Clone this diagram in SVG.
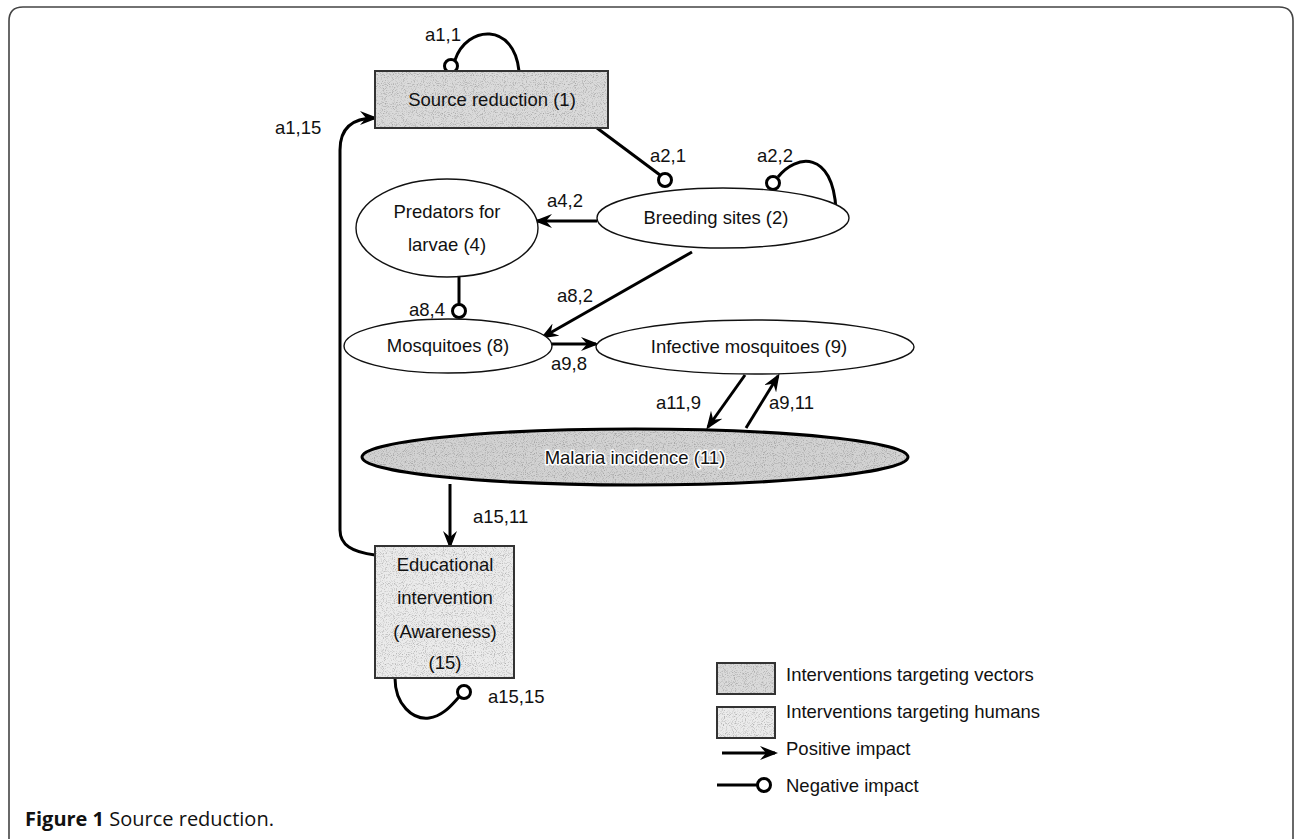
<svg xmlns="http://www.w3.org/2000/svg" width="1295" height="839" viewBox="0 0 1295 839">
  <style>
    text { font-family: "Liberation Sans", Arial, sans-serif; font-size: 18.5px; fill: #111; }
    .lbl { text-anchor: start; }
    .ctr { text-anchor: middle; }
    .node-plain { fill: #fff; stroke: #111; stroke-width: 1.4; }
    .outline { fill: none; stroke: #333; stroke-width: 2; }
    .vec { fill: #dadada; stroke: none; filter: url(#grain); }
    .hum { fill: #ebebeb; stroke: none; filter: url(#grain); }
    .inc { fill: #d2d2d2; stroke: none; filter: url(#grain); }
    .inc-line { fill: none; stroke: #000; stroke-width: 3; }
    .edge { fill: none; stroke: #000; stroke-width: 3; }
    .pos { marker-end: url(#arrow); }
    .neg-end { fill: #fff; stroke: #000; stroke-width: 3; }
    .halo { stroke: #fff; stroke-width: 3; paint-order: stroke; stroke-linejoin: round; }
    .caption { font-family: "Open Sans", "Liberation Sans", sans-serif; font-size: 20px; }
  </style>
  <defs>
    <marker id="arrow" markerUnits="userSpaceOnUse" viewBox="0 0 18 14" refX="15" refY="7" markerWidth="18" markerHeight="14" orient="auto">
      <path d="M0,0 L18,7 L0,14 L6,7 Z" fill="#000"/>
    </marker>
    <!-- light stippled grey print texture -->
    <filter id="grain" x="0" y="0" width="1" height="1" color-interpolation-filters="sRGB">
      <feTurbulence type="fractalNoise" baseFrequency="1.1" numOctaves="1" seed="7" result="noise"/>
      <feColorMatrix in="noise" type="matrix" values="0 0 0 0 0.25  0 0 0 0 0.25  0 0 0 0 0.25  0 0 0 -1.1 0.55" result="dots"/>
      <feComposite in="dots" in2="SourceGraphic" operator="in" result="clipped"/>
      <feMerge><feMergeNode in="SourceGraphic"/><feMergeNode in="clipped"/></feMerge>
    </filter>
  </defs>

  <rect width="1295" height="839" fill="#fff"/>

  <!-- outer frame, open at the bottom -->
  <path d="M9,839 L9,21 Q9,7 23,7 L1279,7 Q1293,7 1293,21 L1293,839" fill="none" stroke="#444" stroke-width="1.6"/>

  <!-- connectors -->
  <g id="connectors">
    <!-- a1,1 self loop -->
    <path class="edge" d="M455,60 C467,25 514,22 519,71"/>
    <circle class="neg-end" cx="451" cy="66" r="6.5"/>
    <!-- a2,1 -->
    <path class="edge" d="M597,128 L660,175"/>
    <circle class="neg-end" cx="665" cy="180" r="6.5"/>
    <!-- a2,2 self loop -->
    <path class="edge" d="M778,177 C796,154 833,150 836,210"/>
    <circle class="neg-end" cx="773" cy="183" r="6.5"/>
    <!-- a4,2 -->
    <path class="edge pos" d="M597,221 L537,221"/>
    <!-- a8,2 -->
    <path class="edge pos" d="M692,252 L543,337"/>
    <!-- a8,4 -->
    <path class="edge" d="M459,277 L459,304"/>
    <circle class="neg-end" cx="459" cy="311" r="6.5"/>
    <!-- a9,8 -->
    <path class="edge pos" d="M552,344 L596,344"/>
    <!-- a11,9 -->
    <path class="edge pos" d="M745,375 L708,427"/>
    <!-- a9,11 -->
    <path class="edge pos" d="M746,428 L778,376"/>
    <!-- a15,11 -->
    <path class="edge pos" d="M450,484 L450,546"/>
    <!-- a1,15 -->
    <path class="edge pos" d="M375,555 C352,552 340,545 340,530 L340,150 C340,128 352,118 375,118"/>
    <!-- a15,15 self loop -->
    <path class="edge" d="M395,678 C395,705 413,720 429,718 C444,716 453,703 459,697"/>
    <circle class="neg-end" cx="464" cy="692" r="6.5"/>
  </g>

  <!-- edge labels -->
  <g id="edge-labels">
    <text class="lbl" x="425" y="41">a1,1</text>
    <text class="lbl" x="275" y="134">a1,15</text>
    <text class="lbl" x="650" y="162">a2,1</text>
    <text class="lbl" x="757" y="162">a2,2</text>
    <text class="lbl" x="547" y="207">a4,2</text>
    <text class="lbl" x="557" y="302">a8,2</text>
    <text class="lbl" x="409" y="316">a8,4</text>
    <text class="lbl" x="551" y="370">a9,8</text>
    <text class="lbl" x="656" y="409">a11,9</text>
    <text class="lbl" x="769" y="409">a9,11</text>
    <text class="lbl" x="473" y="523">a15,11</text>
    <text class="lbl" x="488" y="703">a15,15</text>
  </g>

  <g id="node-1">
    <rect class="vec" x="375" y="71" width="233" height="57"/>
    <rect class="outline" x="375" y="71" width="233" height="57"/>
    <text class="ctr" x="492" y="106">Source reduction (1)</text>
  </g>

  <g id="node-2">
    <ellipse class="node-plain" cx="723" cy="218" rx="126" ry="30"/>
    <text class="ctr" x="716" y="224">Breeding sites (2)</text>
  </g>

  <g id="node-4">
    <ellipse class="node-plain" cx="447" cy="228" rx="91" ry="49"/>
    <text class="ctr" x="447" y="218">Predators for</text>
    <text class="ctr" x="447" y="251">larvae (4)</text>
  </g>

  <g id="node-8">
    <ellipse class="node-plain" cx="448" cy="346" rx="104" ry="27"/>
    <text class="ctr" x="448" y="352">Mosquitoes (8)</text>
  </g>

  <g id="node-9">
    <ellipse class="node-plain" cx="755" cy="347" rx="159" ry="27"/>
    <text class="ctr" x="749" y="353">Infective mosquitoes (9)</text>
  </g>

  <g id="node-11">
    <ellipse class="inc" cx="635" cy="457" rx="273" ry="28"/>
    <ellipse class="inc-line" cx="635" cy="457" rx="273" ry="28"/>
    <text class="ctr halo" x="635" y="464">Malaria incidence (11)</text>
  </g>

  <g id="node-15">
    <rect class="hum" x="375" y="546" width="139" height="132"/>
    <rect class="outline" x="375" y="546" width="139" height="132"/>
    <text class="ctr" x="445" y="571">Educational</text>
    <text class="ctr" x="445" y="604">intervention</text>
    <text class="ctr" x="445" y="638">(Awareness)</text>
    <text class="ctr" x="445" y="669">(15)</text>
  </g>

  <g id="legend">
    <rect class="vec" x="717" y="663" width="58" height="31"/>
    <rect class="outline" x="717" y="663" width="58" height="31"/>
    <text class="lbl" x="786" y="681">Interventions targeting vectors</text>
    <rect class="hum" x="717" y="707" width="58" height="31"/>
    <rect class="outline" x="717" y="707" width="58" height="31"/>
    <text class="lbl" x="786" y="718">Interventions targeting humans</text>
    <path class="edge pos" d="M722,753 L775,753"/>
    <text class="lbl" x="786" y="755">Positive impact</text>
    <path class="edge" d="M717,785 L757,785"/>
    <circle class="neg-end" cx="764" cy="785" r="6.5"/>
    <text class="lbl" x="786" y="792">Negative impact</text>
  </g>

  <text class="caption" x="25" y="826"><tspan font-weight="bold">Figure 1</tspan> Source reduction.</text>
</svg>
